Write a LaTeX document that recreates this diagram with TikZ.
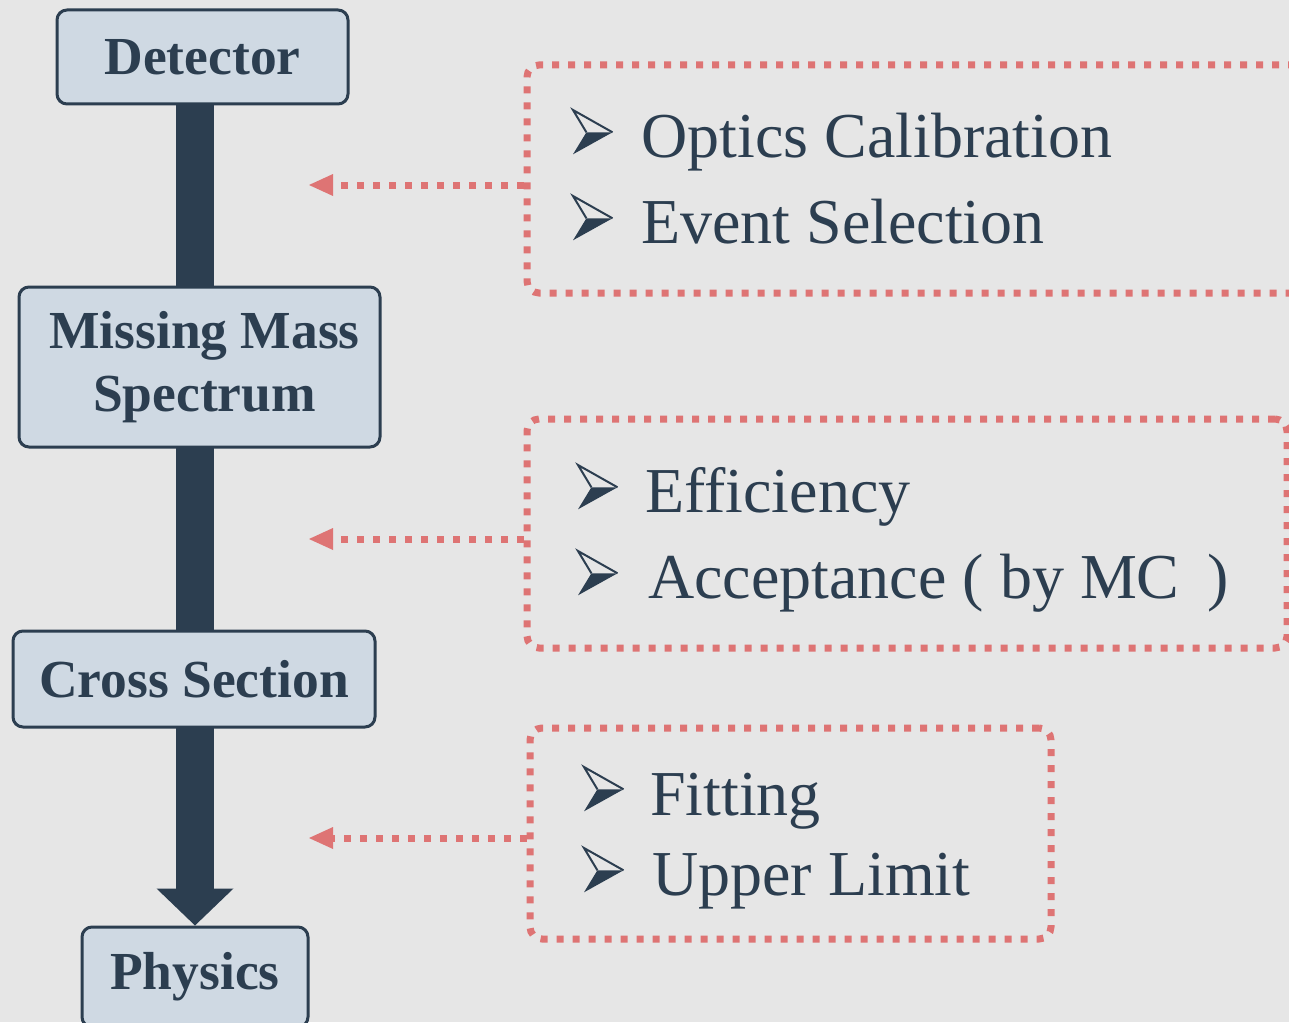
\documentclass[tikz,border=0pt]{standalone}
\usepackage{fontspec}
\setmainfont{Liberation Serif}
\usetikzlibrary{arrows.meta,backgrounds,calc}
\definecolor{bgc}{HTML}{E6E6E6}
\definecolor{boxfill}{HTML}{CFD9E3}
\definecolor{dark}{HTML}{2C3E50}
\definecolor{reddot}{HTML}{DE7474}
\tikzset{
  stepbox/.style={draw=dark, line width=3pt, fill=boxfill, rounded corners=10pt,
    text=dark, font=\fontsize{53.5}{63}\selectfont\bfseries, align=center, inner sep=0pt},
  dotbox/.style={draw=reddot, line width=7pt, dash pattern=on 7pt off 9pt,
    rounded corners=12pt, inner sep=0pt},
  dotarrow/.style={draw=reddot, line width=7pt, dash pattern=on 7pt off 9pt,
    -{Triangle[width=22pt,length=24pt,line width=0pt]}},
  item/.style={anchor=base west, text=dark, font=\fontsize{64}{74}\selectfont, inner sep=0pt},
  arrowbullet/.pic={
    \fill[dark] (39.5,22.3) -- (0,44.3) -- (13.4,22.3) -- cycle;
    \draw[dark, line width=2pt, line join=miter] (13.4,22.3) -- (0,0) -- (39.5,22.3);
  },
}
\begin{document}
\begin{tikzpicture}[x=1pt,y=-1pt]
\useasboundingbox (0,0) rectangle (1289,1022);
\begin{pgfonlayer}{background}
\fill[bgc] (0,0) rectangle (1289,1022);
\end{pgfonlayer}
% left boxes
\node[stepbox, minimum width=291pt, minimum height=94pt] (det) at (202.5,57) {Detector};
\node[stepbox, minimum width=361pt, minimum height=160pt] (mms) at (199.5,367) {\hspace*{10pt}Missing Mass\\\hspace*{10pt}Spectrum};
\node[stepbox, minimum width=362pt, minimum height=96pt] (cs) at (194,679) {Cross Section};
\node[stepbox, minimum width=226pt, minimum height=100pt] (phys) at (195,977) {Physics};
% main arrow
\begin{pgfonlayer}{background}
\draw[dark, line width=38pt, -{Triangle[width=77pt,length=37pt,line width=0pt]}]
  (phys.north |- det.south) -- (phys.north);
\end{pgfonlayer}
% dotted boxes
\node[dotbox, minimum width=780pt, minimum height=228pt] (b1) at (917,179) {};
\node[dotbox, minimum width=760pt, minimum height=229pt] (b2) at (907,533.5) {};
\node[dotbox, minimum width=521pt, minimum height=211pt] (b3) at (790.5,833.5) {};
% bullets
\pic at (573,110) {arrowbullet};
\pic at (573,196) {arrowbullet};
\pic at (578,465) {arrowbullet};
\pic at (578,551) {arrowbullet};
\pic at (584,767) {arrowbullet};
\pic at (584,848) {arrowbullet};
% texts
\node[item] (t1) at (641,157) {Optics Calibration};
\node[item] (t2) at (641,243) {Event Selection};
\node[item] (t3) at (645,512) {Efficiency};
\node[item] (t4) at (648,598) {Acceptance ( by MC\hspace{28pt})};
\node[item] (t5) at (650,815) {Fitting};
\node[item] (t6) at (652,895) {Upper Limit};
% dotted arrows
\coordinate (e1) at (309,185);
\coordinate (e2) at (309,539);
\coordinate (e3) at (309,838);
\draw[dotarrow] (b1.west |- e1) -- (e1);
\draw[dotarrow] (b2.west |- e2) -- (e2);
\draw[dotarrow] (b3.west |- e3) -- (e3);
\end{tikzpicture}
\end{document}
